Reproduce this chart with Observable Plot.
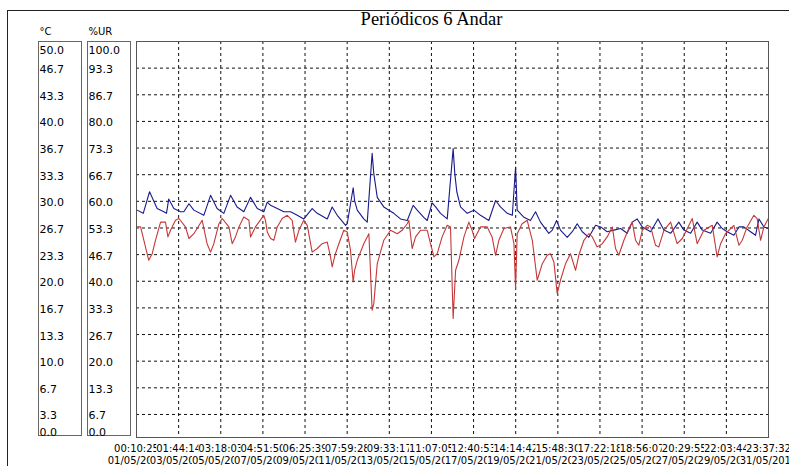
<!DOCTYPE html>
<html>
<head>
<meta charset="utf-8">
<script src="https://cdn.jsdelivr.net/npm/d3@7"></script>
<script src="https://cdn.jsdelivr.net/npm/@observablehq/plot@0.6"></script>
<style>
  html, body { margin: 0; padding: 0; background: #fff; overflow: hidden; }
  #wrap { position: relative; width: 789px; height: 466px; overflow: hidden; background: #fff; }
  #outer { position: absolute; left: 7px; top: 10px; width: 900px; height: 600px;
           border-left: 1px solid #222; border-top: 1px solid #222; }
  .box { position: absolute; top: 41px; height: 395px; border: 1px solid #666; box-sizing: border-box; }
  #chart { position: absolute; left: 0; top: 0; }
  #chart svg { overflow: visible; }
</style>
</head>
<body>
<div id="wrap">
  <div id="outer"></div>
  <div class="box" style="left:38px;width:44px;"></div>
  <div class="box" style="left:87px;width:44px;"></div>
  <div id="chart"></div>
</div>
<script>
// ---------- data ----------
const title = "Periódicos 6 Andar";
const unitC = "°C";
const unitUR = "%UR";

// left axis ticks (°C scale; %UR = 2 × °C)
const tickValues = [0, 3.333, 6.667, 10, 13.333, 16.667, 20, 23.333, 26.667, 30, 33.333, 36.667, 40, 43.333, 46.667, 50];
const tickLabelsC = ["0.0","3.3","6.7","10.0","13.3","16.7","20.0","23.3","26.7","30.0","33.3","36.7","40.0","43.3","46.7","50.0"];
const tickLabelsUR = ["0.0","6.7","13.3","20.0","26.7","33.3","40.0","46.7","53.3","60.0","66.7","73.3","80.0","86.7","93.3","100.0"];

// x ticks in days since 01/05/2010 00:10:25
const xTicks = [0, 2.0651, 4.1303, 6.1954, 8.2605, 10.3257, 12.3908, 14.4559, 16.5210, 18.5862, 20.6513, 22.7164, 24.7816, 26.8467, 28.9118, 30.977];
const timeLabels = ["00:10:25","01:44:14","03:18:03","04:51:50","06:25:39","07:59:28","09:33:17","11:07:05","12:40:53","14:14:42","15:48:30","17:22:18","18:56:07","20:29:55","22:03:44","23:37:32"];
const dateLabels = ["01/05/2010","03/05/2010","05/05/2010","07/05/2010","09/05/2010","11/05/2010","13/05/2010","15/05/2010","17/05/2010","19/05/2010","21/05/2010","23/05/2010","25/05/2010","27/05/2010","29/05/2010","31/05/2010"];

// temperature series [day, °C]
const tempPoints = [[0.03,28.9],[0.33,28.5],[0.64,31.2],[1.01,29.1],[1.34,28.7],[1.47,28.5],[1.58,30.3],[1.83,29.1],[2.16,28.7],[2.32,28.7],[2.57,29.7],[2.81,28.9],[3.30,28.25],[3.63,30.75],[3.95,29.1],[4.28,28.5],[4.61,30.75],[4.93,29.3],[5.26,28.7],[5.59,30.5],[5.92,29.1],[6.24,28.7],[6.41,29.9],[6.57,29.5],[6.90,29.1],[7.22,28.7],[7.55,28.7],[7.88,28.25],[8.20,27.8],[8.61,29.1],[8.86,28.5],[9.35,27.8],[9.59,29.3],[9.84,28.25],[10.25,27.0],[10.33,27.2],[10.62,31.7],[10.69,30.1],[10.82,28.9],[11.14,27.8],[11.31,27.4],[11.55,36.0],[11.63,33.5],[11.80,30.5],[12.12,29.3],[12.61,28.5],[12.94,27.8],[13.27,27.6],[13.56,29.5],[13.76,28.9],[14.08,28.0],[14.25,27.6],[14.49,29.8],[14.66,29.3],[14.90,28.5],[15.23,27.8],[15.52,36.6],[15.60,33.5],[15.70,31.2],[15.88,29.3],[16.21,28.5],[16.54,28.9],[16.86,28.25],[17.27,27.6],[17.60,30.1],[17.84,29.3],[18.17,28.5],[18.42,28.25],[18.58,34.3],[18.66,28.9],[18.99,28.0],[19.31,27.6],[19.56,28.7],[19.80,27.4],[20.21,26.0],[20.38,26.4],[20.59,27.6],[20.78,26.4],[21.11,25.5],[21.36,26.2],[21.60,27.2],[21.85,26.2],[22.17,25.5],[22.50,27.0],[22.75,26.8],[23.07,26.2],[23.40,26.4],[23.73,26.6],[24.05,26.0],[24.30,27.4],[24.54,27.8],[24.79,26.8],[25.20,26.2],[25.56,27.8],[25.85,26.4],[26.18,26.0],[26.58,27.4],[26.83,26.4],[27.16,26.0],[27.48,27.4],[27.73,26.4],[28.14,26.0],[28.46,27.4],[28.71,26.6],[28.95,26.2],[29.28,25.75],[29.53,26.8],[29.77,26.8],[30.10,26.2],[30.34,25.75],[30.51,27.8],[30.75,26.8],[30.97,26.6]];

// relative humidity series [day, %UR]
const rhPoints = [[0.03,53.6],[0.20,53.6],[0.52,46.9],[0.60,45.25],[0.77,46.9],[0.93,50.25],[1.18,54.8],[1.42,54.8],[1.54,51.1],[1.67,52.75],[1.91,55.25],[2.08,55.7],[2.40,53.6],[2.57,50.7],[2.81,51.9],[2.97,53.2],[3.22,55.25],[3.46,49.4],[3.63,47.3],[3.79,49.4],[4.04,54.4],[4.20,55.7],[4.53,53.6],[4.69,49.4],[4.85,51.1],[5.02,53.6],[5.26,56.1],[5.51,55.25],[5.59,51.1],[5.83,53.6],[6.24,56.5],[6.32,55.25],[6.41,52.3],[6.57,50.7],[6.73,50.25],[6.90,53.6],[7.14,55.7],[7.39,56.5],[7.63,55.25],[7.79,49.8],[7.96,52.75],[8.20,55.25],[8.37,54.0],[8.61,47.3],[8.86,48.2],[9.10,49.4],[9.35,49.8],[9.51,46.1],[9.59,43.6],[9.75,46.9],[9.92,49.4],[10.16,52.75],[10.33,52.3],[10.49,47.75],[10.62,39.8],[10.69,42.75],[10.82,45.25],[11.14,49.4],[11.39,51.9],[11.55,32.75],[11.63,34.4],[11.80,44.4],[12.12,50.25],[12.45,52.75],[12.78,51.9],[13.02,52.75],[13.27,54.4],[13.35,55.25],[13.51,48.2],[13.68,51.1],[13.92,52.75],[14.25,52.75],[14.41,49.4],[14.58,46.1],[14.74,46.9],[14.98,51.1],[15.23,54.0],[15.39,53.6],[15.52,30.7],[15.64,42.75],[15.80,45.25],[16.05,51.1],[16.29,54.8],[16.45,52.75],[16.57,50.7],[16.86,53.6],[17.19,53.6],[17.43,51.1],[17.60,46.5],[17.76,50.25],[18.01,53.2],[18.33,53.6],[18.50,49.4],[18.58,38.2],[18.66,51.9],[18.90,54.4],[19.15,55.25],[19.40,50.25],[19.56,43.6],[19.64,40.25],[19.89,44.4],[20.13,46.5],[20.29,46.9],[20.46,44.8],[20.62,36.9],[20.78,40.25],[21.03,44.4],[21.27,46.9],[21.52,42.75],[21.68,46.5],[21.93,50.25],[22.17,51.9],[22.34,51.1],[22.58,48.6],[22.83,49.4],[23.07,51.1],[23.32,53.6],[23.48,48.2],[23.64,46.5],[23.89,50.25],[24.13,53.2],[24.30,54.8],[24.46,50.25],[24.62,49.0],[24.79,52.75],[25.03,54.0],[25.20,53.6],[25.44,49.0],[25.60,48.6],[25.85,52.75],[26.18,54.8],[26.50,49.4],[26.75,50.7],[27.00,53.2],[27.24,55.7],[27.48,49.4],[27.81,52.75],[28.22,54.0],[28.46,46.1],[28.63,49.4],[28.87,51.9],[29.28,54.0],[29.53,49.0],[29.69,50.25],[29.93,53.6],[30.26,56.5],[30.42,55.7],[30.59,50.25],[30.75,53.6],[30.97,55.7]];

// ---------- chart ----------
const ticks = tickValues.map((v, i) => ({v, c: tickLabelsC[i], ur: tickLabelsUR[i]}));
const midTicks = ticks.slice(1, -1);
const topTick = ticks.slice(-1);
const botTick = ticks.slice(0, 1);
const xt = xTicks.map((v, i) => ({v, t: timeLabels[i], d: dateLabels[i]}));

const font = "DejaVu Sans, Verdana, sans-serif";
const labelC = {frameAnchor: "left", textAnchor: "start", dx: -97, fontSize: 11, fill: "#000", fontFamily: font};
const labelUR = {...labelC, dx: -48};

const chart = Plot.plot({
  width: 789,
  height: 466,
  marginLeft: 136,
  marginRight: 21,
  marginTop: 41,
  marginBottom: 29,
  x: {domain: [0, 30.977], axis: null},
  y: {domain: [0.45, 50], axis: null},
  style: {background: "transparent", fontFamily: font, overflow: "visible"},
  marks: [
    Plot.ruleY(midTicks, {y: "v", stroke: "#111", strokeDasharray: "3,3", strokeWidth: 1}),
    Plot.ruleX(xt.slice(1, -1), {x: "v", stroke: "#111", strokeDasharray: "3,3", strokeWidth: 1}),
    Plot.line(tempPoints, {x: d => d[0], y: d => d[1], stroke: "#1a1a8e", strokeWidth: 1.1}),
    Plot.line(rhPoints, {x: d => d[0], y: d => d[1] / 2, stroke: "#c63838", strokeWidth: 1.1}),
    Plot.frame({stroke: "#555"}),
    // left scale labels
    Plot.text(midTicks, {...labelC, y: "v", text: "c", dy: 1.5}),
    Plot.text(midTicks, {...labelUR, y: "v", text: "ur", dy: 1.5}),
    Plot.text(topTick, {...labelC, y: "v", text: "c", dy: 9}),
    Plot.text(topTick, {...labelUR, y: "v", text: "ur", dy: 9}),
    Plot.text(botTick, {...labelC, y: "v", text: "c", dy: -8.5}),
    Plot.text(botTick, {...labelUR, y: "v", text: "ur", dy: -8.5}),
    // unit headers
    Plot.text([unitC], {frameAnchor: "top-left", textAnchor: "start", lineAnchor: "middle", dx: -97, dy: -10, fontSize: 10, fill: "#000", fontFamily: font}),
    Plot.text([unitUR], {frameAnchor: "top-left", textAnchor: "start", lineAnchor: "middle", dx: -48, dy: -10, fontSize: 10, fill: "#000", fontFamily: font}),
    // title
    Plot.text([title], {frameAnchor: "top", lineAnchor: "middle", dx: -21, dy: -22, fontSize: 18.5, fill: "#000", fontFamily: "Liberation Serif, Times New Roman, serif"}),
    // bottom labels
    Plot.text(xt, {x: "v", text: "t", frameAnchor: "bottom", lineAnchor: "middle", dy: 11, fontSize: 10, fill: "#000", fontFamily: font}),
    Plot.text(xt, {x: "v", text: "d", frameAnchor: "bottom", lineAnchor: "middle", dy: 23.5, fontSize: 10, fill: "#000", fontFamily: font})
  ]
});

document.getElementById("chart").appendChild(chart);

// opaque label backgrounds: each later label covers the one before it
function backfill(labels) {
  const set = new Set(labels);
  const texts = Array.from(chart.querySelectorAll("text")).filter(t => set.has(t.textContent));
  for (const t of texts) {
    const b = t.getBBox();
    const r = document.createElementNS("http://www.w3.org/2000/svg", "rect");
    r.setAttribute("x", b.x);
    r.setAttribute("y", b.y);
    r.setAttribute("width", b.width);
    r.setAttribute("height", b.height);
    r.setAttribute("fill", "#fff");
    const tr = t.getAttribute("transform");
    if (tr) r.setAttribute("transform", tr);
    t.parentNode.insertBefore(r, t);
  }
}
backfill(timeLabels);
backfill(dateLabels);
</script>
</body>
</html>
